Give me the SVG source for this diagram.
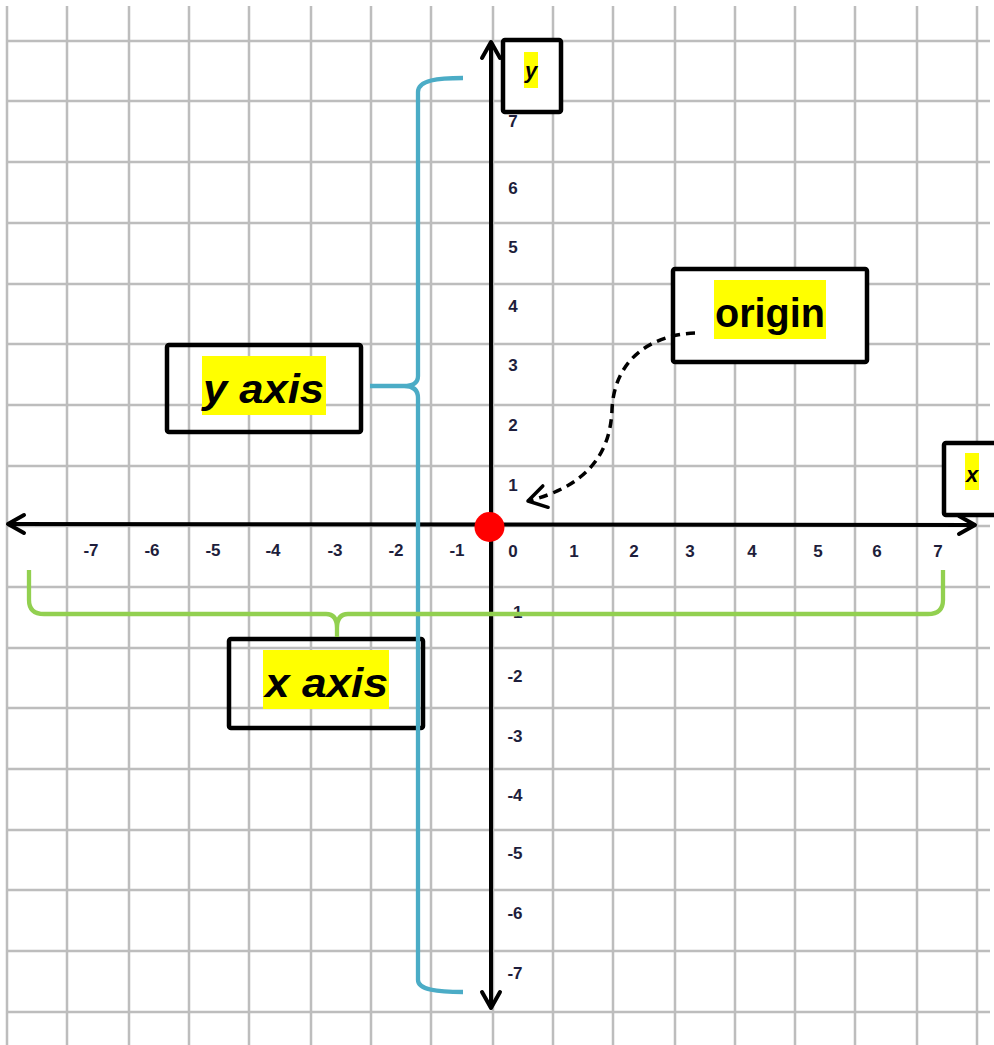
<svg xmlns="http://www.w3.org/2000/svg" width="994" height="1045" viewBox="0 0 994 1045">
<style>
.grid line{stroke:#bdbdbd;stroke-width:2.5}
.tick{font-family:"Liberation Sans",Arial,sans-serif;font-weight:bold;font-size:17px;fill:#1e1e3c;text-anchor:middle}
.box{fill:#fff;stroke:#000;stroke-width:4.5}
.boxo{fill:none;stroke:#000;stroke-width:4.5}
.hl{fill:#ffff00}
.lbl{font-family:"Liberation Sans",Arial,sans-serif;font-weight:bold;fill:#000}
.axis{stroke:#000;stroke-width:4;fill:none}
</style>
<defs>
<marker id="chev" markerUnits="userSpaceOnUse" markerWidth="30" markerHeight="30" viewBox="-22 -15 30 30" refX="0" refY="0" orient="auto-start-reverse">
<path d="M -16 -9 L 0 0 L -16 9" fill="none" stroke="#000" stroke-width="4" stroke-linecap="round" stroke-linejoin="round"/>
</marker>
<marker id="chevd" markerUnits="userSpaceOnUse" markerWidth="30" markerHeight="30" viewBox="-22 -15 30 30" refX="0" refY="0" orient="auto">
<path d="M -18 -11 L 0 0 L -18 11" fill="none" stroke="#000" stroke-width="3.5" stroke-dasharray="none" stroke-linecap="round" stroke-linejoin="round"/>
</marker>
</defs>
<rect width="994" height="1045" fill="#fff"/>
<g id="grid" class="grid">
<line x1="7" y1="6" x2="7" y2="1045"/><line x1="67" y1="6" x2="67" y2="1045"/><line x1="129" y1="6" x2="129" y2="1045"/><line x1="189" y1="6" x2="189" y2="1045"/><line x1="249" y1="6" x2="249" y2="1045"/><line x1="311" y1="6" x2="311" y2="1045"/><line x1="371" y1="6" x2="371" y2="1045"/><line x1="431" y1="6" x2="431" y2="1045"/><line x1="493" y1="6" x2="493" y2="1045"/><line x1="553" y1="6" x2="553" y2="1045"/><line x1="613" y1="6" x2="613" y2="1045"/><line x1="675" y1="6" x2="675" y2="1045"/><line x1="735" y1="6" x2="735" y2="1045"/><line x1="795" y1="6" x2="795" y2="1045"/><line x1="855" y1="6" x2="855" y2="1045"/><line x1="917" y1="6" x2="917" y2="1045"/><line x1="977" y1="6" x2="977" y2="1045"/>
<line x1="7" y1="41" x2="990" y2="41"/><line x1="7" y1="101" x2="990" y2="101"/><line x1="7" y1="162" x2="990" y2="162"/><line x1="7" y1="223" x2="990" y2="223"/><line x1="7" y1="284" x2="990" y2="284"/><line x1="7" y1="344" x2="990" y2="344"/><line x1="7" y1="405" x2="990" y2="405"/><line x1="7" y1="466" x2="990" y2="466"/><line x1="7" y1="526" x2="990" y2="526"/><line x1="7" y1="587" x2="990" y2="587"/><line x1="7" y1="648" x2="990" y2="648"/><line x1="7" y1="708" x2="990" y2="708"/><line x1="7" y1="769" x2="990" y2="769"/><line x1="7" y1="830" x2="990" y2="830"/><line x1="7" y1="890" x2="990" y2="890"/><line x1="7" y1="951" x2="990" y2="951"/><line x1="7" y1="1012" x2="990" y2="1012"/>
</g>
<g id="ticks">
<text class="tick" x="91" y="556">-7</text><text class="tick" x="152" y="556">-6</text><text class="tick" x="213" y="556">-5</text><text class="tick" x="273" y="556">-4</text><text class="tick" x="335" y="556">-3</text><text class="tick" x="396" y="556">-2</text><text class="tick" x="457" y="556">-1</text>
<text class="tick" x="513" y="557">0</text><text class="tick" x="574" y="557">1</text><text class="tick" x="634" y="557">2</text><text class="tick" x="690" y="557">3</text><text class="tick" x="752" y="557">4</text><text class="tick" x="818" y="557">5</text><text class="tick" x="877" y="557">6</text><text class="tick" x="938" y="557">7</text>
<text class="tick" x="513" y="127">7</text><text class="tick" x="513" y="194">6</text><text class="tick" x="513" y="253">5</text><text class="tick" x="513" y="312">4</text><text class="tick" x="513" y="371">3</text><text class="tick" x="513" y="431">2</text><text class="tick" x="513" y="491">1</text>
<text class="tick" x="515" y="618">-1</text><text class="tick" x="515" y="682">-2</text><text class="tick" x="515" y="742">-3</text><text class="tick" x="515" y="801">-4</text><text class="tick" x="515" y="859">-5</text><text class="tick" x="515" y="919">-6</text><text class="tick" x="515" y="979">-7</text>
</g>
<g id="node-y-box">
<rect class="box" x="503" y="40" width="58" height="72" rx="2"/>
<rect class="hl" x="524" y="52" width="14" height="36"/>
<text class="lbl" x="531" y="78" font-size="22" font-style="italic" text-anchor="middle">y</text>
</g>
<g id="node-x-box">
<rect class="box" x="944" y="443" width="60" height="72" rx="2"/>
<rect class="hl" x="965" y="453" width="14" height="37"/>
<text class="lbl" x="972" y="482" font-size="22" font-style="italic" text-anchor="middle">x</text>
</g>
<g id="node-origin">
<rect class="box" x="673" y="269" width="194" height="93" rx="2"/>
<rect class="hl" x="714" y="280" width="112" height="59"/>
<text class="lbl" x="715" y="327" font-size="40" textLength="110" lengthAdjust="spacingAndGlyphs">origin</text>
</g>
<g id="node-y-axis">
<rect class="boxo" x="167" y="345" width="194" height="87" rx="2"/>
<rect class="hl" x="202" y="356" width="124" height="59"/>
<text class="lbl" x="203" y="403" font-size="41" font-style="italic" textLength="121" lengthAdjust="spacingAndGlyphs">y axis</text>
</g>
<g id="node-x-axis">
<rect class="boxo" x="229" y="639" width="194" height="89" rx="2"/>
<rect class="hl" x="263" y="650" width="126" height="59"/>
<text class="lbl" x="265" y="697" font-size="41" font-style="italic" textLength="123" lengthAdjust="spacingAndGlyphs">x axis</text>
</g>
<g id="connectors">
<path class="axis" d="M 491 42 L 491 1008" marker-start="url(#chev)" marker-end="url(#chev)"/>
<path class="axis" d="M 8 524 L 975 525" marker-start="url(#chev)" marker-end="url(#chev)"/>
<path d="M 463 78 C 438 78 418 80 418 92 L 418 376 Q 418 386 404 386 L 370 386 M 404 386 Q 418 386 418 398 L 418 980 C 418 990 438 992 463 992" fill="none" stroke="#4bacc6" stroke-width="4.3" stroke-linejoin="round"/>
<path d="M 29 570 L 29 600 Q 29 614 44 614 L 326 614 Q 337 614 337 628 L 337 637 M 337 628 Q 337 614 348 614 L 928 614 Q 943 614 943 600 L 943 570" fill="none" stroke="#92d050" stroke-width="4.3" stroke-linejoin="round"/>
<path d="M 695 333 C 650 335 614 360 612 410 C 610 460 580 488 528 501" fill="none" stroke="#000" stroke-width="3.5" stroke-dasharray="9 6" marker-end="url(#chevd)"/>
</g>
<g id="node-origin-dot">
<circle cx="489.5" cy="527" r="15" fill="#ff0000"/>
</g>
</svg>
